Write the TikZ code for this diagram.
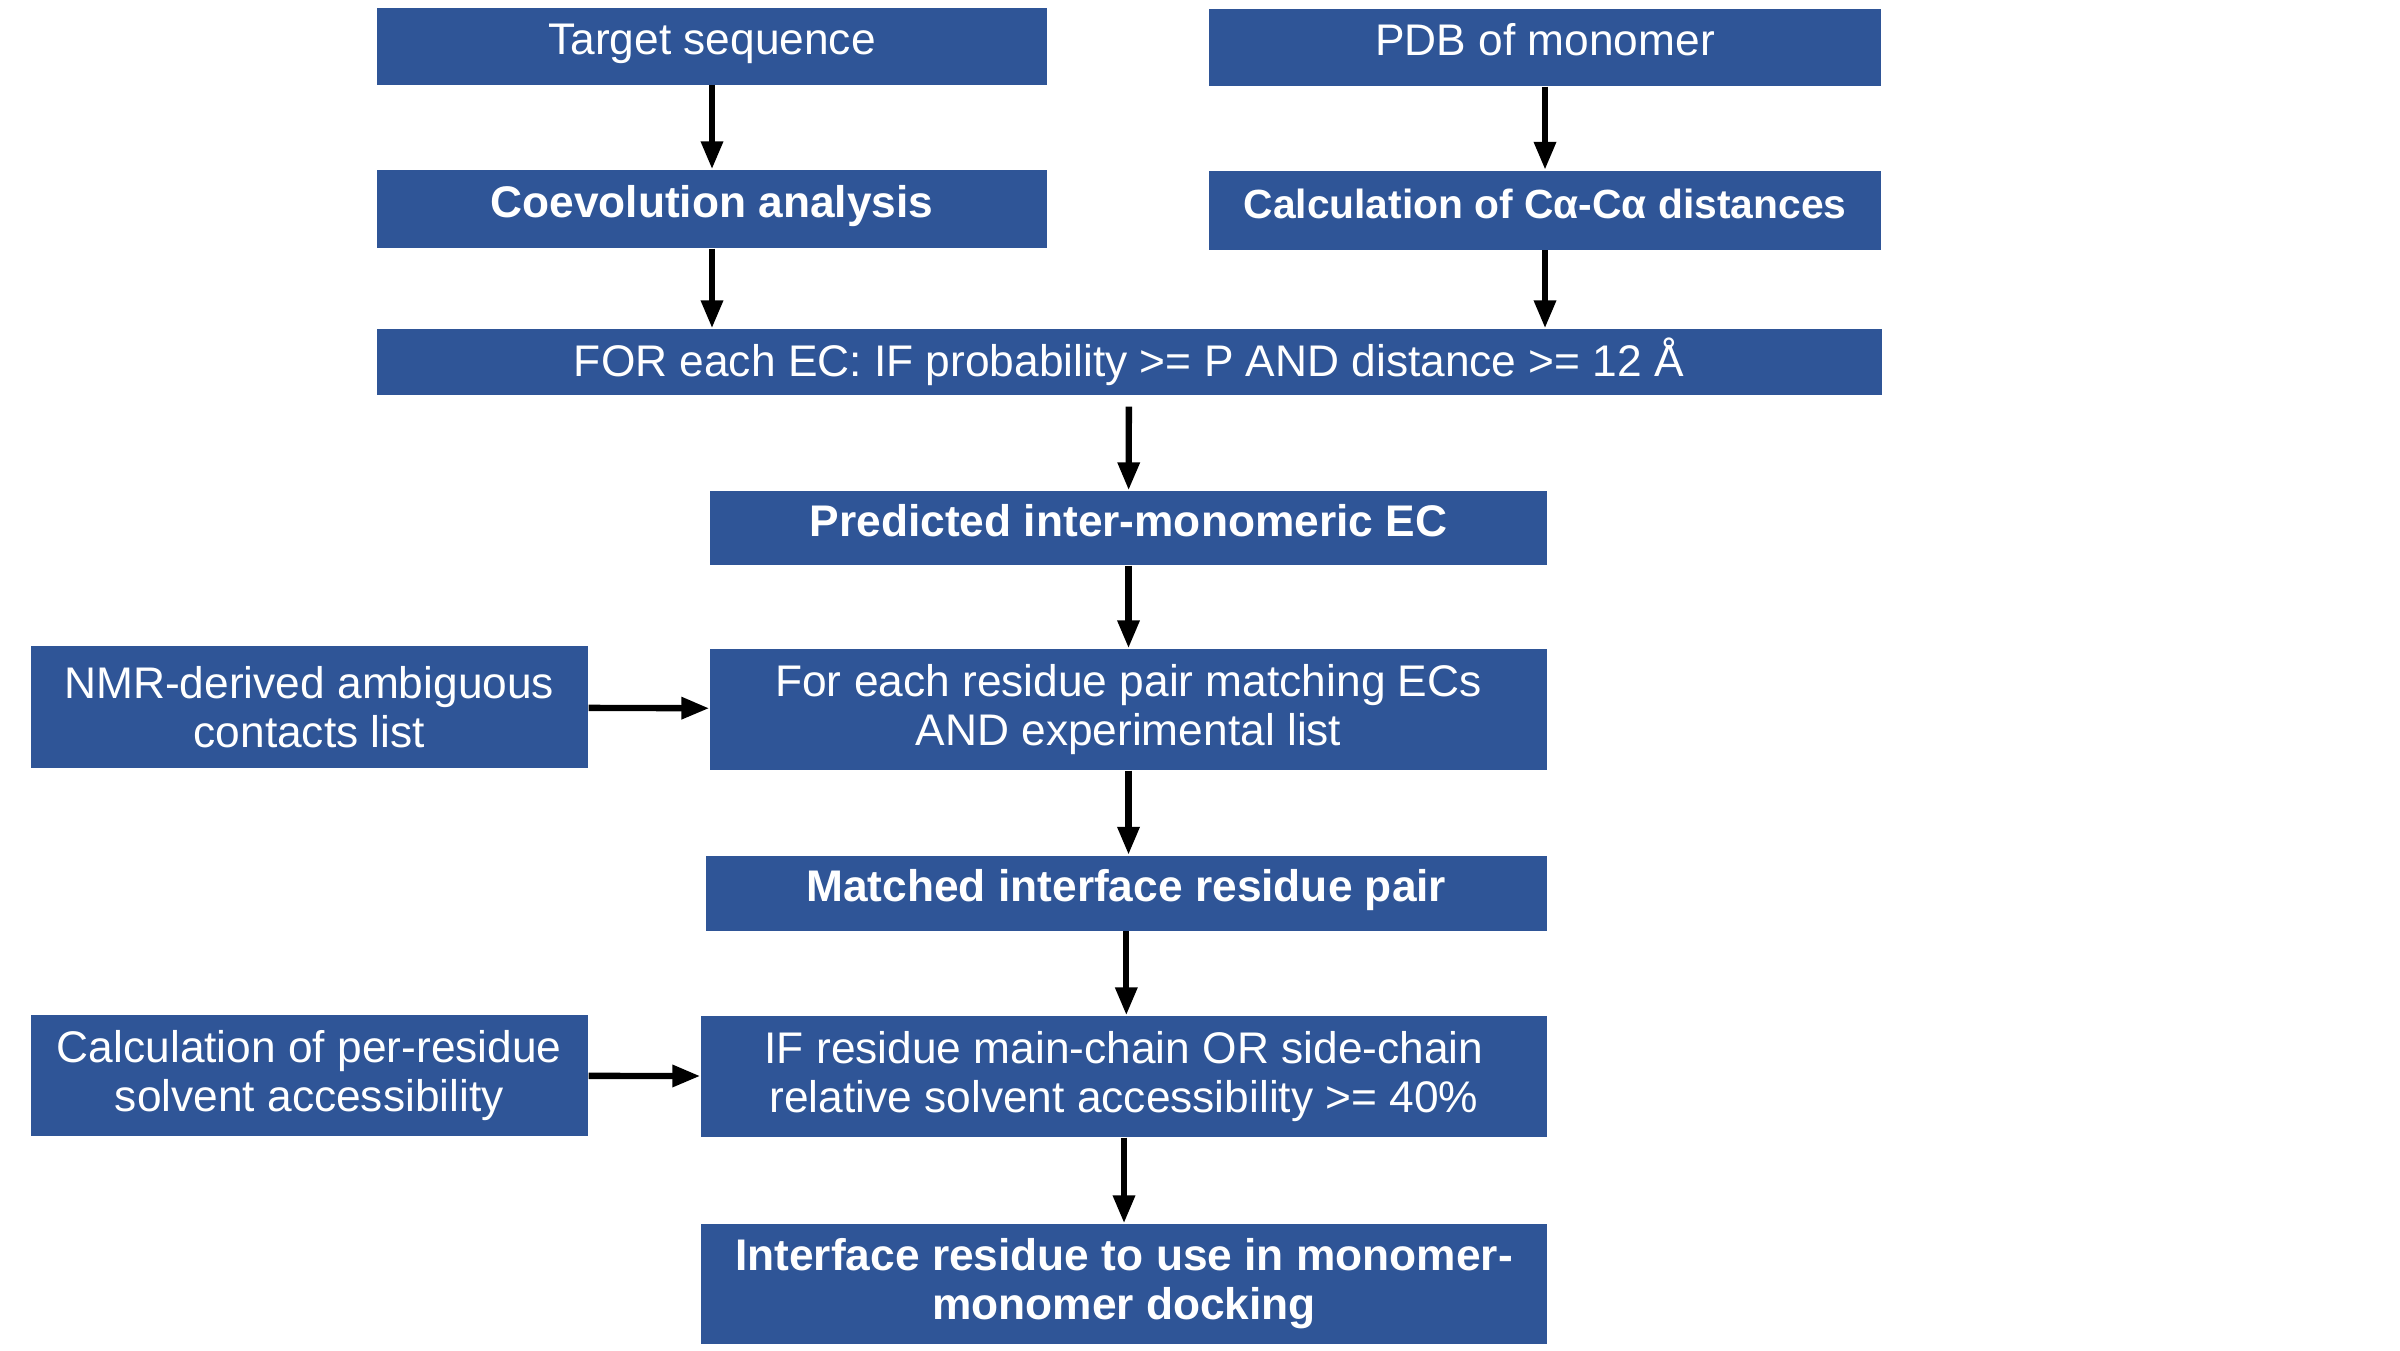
\documentclass[tikz,border=0pt]{standalone}
\usepackage{fontspec}
\setmainfont{Liberation Sans}
\usetikzlibrary{positioning, arrows.meta, calc}
\definecolor{boxblue}{HTML}{2F5597}
\tikzset{
  box/.style={rectangle, fill=boxblue, text=white, align=center,
              font=\fontsize{12.6}{14}\selectfont, inner sep=2pt},
  boxb/.style={box, font=\fontsize{12.6}{14}\selectfont\bfseries},
  oneline/.style={text height=0.36cm, text depth=0.2cm},
  flow/.style={-{Triangle[length=2.8mm, width=2.1mm]}, line width=1.8pt, draw=black},
}

\begin{document}
\begin{tikzpicture}
  \useasboundingbox (0,0) rectangle (24,-13.5);
  % top row
  \node[box, oneline, minimum width=6.70cm, minimum height=0.77cm] (tgt) at (7.12,-0.46) {Target sequence};
  \node[box, oneline, minimum width=6.72cm, minimum height=0.77cm] (pdb) at (15.45,-0.475) {PDB of monomer};
  \node[boxb, oneline, minimum width=6.70cm, minimum height=0.78cm] (coev) at (7.12,-2.09) {Coevolution analysis};
  \node[boxb, oneline, minimum width=6.72cm, minimum height=0.79cm, font=\fontsize{11.6}{13}\selectfont\bfseries]
        (calc) at (15.45,-2.10) {Calculation of Cα-Cα distances};
  \node[box, minimum width=15.05cm, minimum height=0.66cm] (for) at (11.29,-3.62)
        {FOR each EC: IF probability >= P AND distance >= 12 Å};
  % main column
  \node[boxb, oneline, minimum width=8.37cm, minimum height=0.74cm] (pred) at (11.285,-5.28) {Predicted inter-monomeric EC};
  \node[box, minimum width=8.37cm, minimum height=1.21cm] (each) at (11.285,-7.095)
        {For each residue pair matching ECs\\AND experimental list};
  \node[boxb, oneline, minimum width=8.41cm, minimum height=0.75cm] (match) at (11.263,-8.93) {Matched interface residue pair};
  \node[box, minimum width=8.46cm, minimum height=1.21cm] (ifres) at (11.24,-10.765)
        {IF residue main-chain OR side-chain\\relative solvent accessibility >= 40\%};
  \node[boxb, minimum width=8.46cm, minimum height=1.20cm] (iface) at (11.24,-12.84)
        {Interface residue to use in monomer-\\monomer docking};
  % side inputs
  \node[box, minimum width=5.57cm, minimum height=1.22cm] (nmr) at (3.093,-7.07)
        {NMR-derived ambiguous\\contacts list};
  \node[box, minimum width=5.57cm, minimum height=1.21cm] (sasa) at (3.093,-10.755)
        {Calculation of per-residue\\solvent accessibility};
  % connectors
  \draw[flow] (tgt) -- (coev);
  \draw[flow] (pdb) -- (calc);
  \draw[flow] (coev) -- (coev |- for.north);
  \draw[flow] (calc) -- (calc |- for.north);
  \draw[flow, shorten <=1.1mm] (for) -- (pred);
  \draw[flow] (pred) -- (pred |- each.north);
  \draw[flow] (each) -- (each |- match.north);
  \draw[flow] (match) -- (match |- ifres.north);
  \draw[flow] (ifres) -- (ifres |- iface.north);
  \draw[flow] (nmr) -- (each);
  \draw[flow] (sasa) -- (ifres);
\end{tikzpicture}
\end{document}
